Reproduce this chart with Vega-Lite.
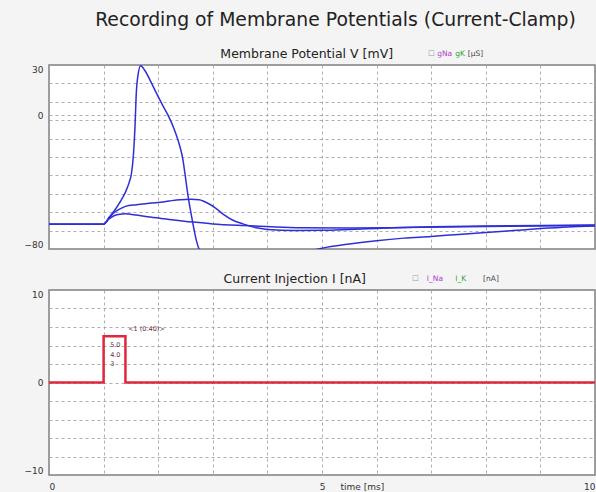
{
  "$schema": "https://vega.github.io/schema/vega-lite/v6.json",
  "background": "#f4f4f4",
  "padding": {"left": 23, "top": 10, "right": 0, "bottom": 0},
  "title": {"text": "Recording of Membrane Potentials (Current-Clamp)", "font": "DejaVu Sans", "fontSize": 18.8, "fontWeight": "normal", "color": "#222", "anchor": "middle", "dx": 26, "offset": 18},
  "config": {
    "view": {"fill": "white", "stroke": "#808080", "strokeWidth": 1.5},
    "axis": {"labelFont": "DejaVu Sans", "labelFontSize": 9, "labelColor": "#333", "gridColor": "#9a9a9a", "gridDash": [3, 3], "gridWidth": 0.8, "domain": false, "ticks": false, "labelPadding": 6, "labelOverlap": false, "tickCount": 30, "format": "~g"}
  },
  "datasets": {
    "vm": [
      {"s": "s5", "t": 0, "v": -65.2}, {"s": "s5", "t": 1.0, "v": -65.2}, {"s": "s5", "t": 1.1, "v": -61}, {"s": "s5", "t": 1.2, "v": -57}, {"s": "s5", "t": 1.3, "v": -52}, {"s": "s5", "t": 1.4, "v": -46}, {"s": "s5", "t": 1.47, "v": -40}, {"s": "s5", "t": 1.51, "v": -35}, {"s": "s5", "t": 1.55, "v": -22}, {"s": "s5", "t": 1.575, "v": -7}, {"s": "s5", "t": 1.6, "v": 14}, {"s": "s5", "t": 1.63, "v": 24}, {"s": "s5", "t": 1.68, "v": 29.5}, {"s": "s5", "t": 1.75, "v": 27}, {"s": "s5", "t": 1.85, "v": 21}, {"s": "s5", "t": 1.97, "v": 13}, {"s": "s5", "t": 2.08, "v": 6}, {"s": "s5", "t": 2.18, "v": 0}, {"s": "s5", "t": 2.3, "v": -9}, {"s": "s5", "t": 2.4, "v": -19}, {"s": "s5", "t": 2.45, "v": -26}, {"s": "s5", "t": 2.49, "v": -35}, {"s": "s5", "t": 2.55, "v": -49}, {"s": "s5", "t": 2.62, "v": -62}, {"s": "s5", "t": 2.7, "v": -75}, {"s": "s5", "t": 2.77, "v": -82}, {"s": "s5", "t": 2.9, "v": -88}, {"s": "s5", "t": 3.2, "v": -91}, {"s": "s5", "t": 3.6, "v": -90}, {"s": "s5", "t": 4.0, "v": -88}, {"s": "s5", "t": 4.4, "v": -85}, {"s": "s5", "t": 4.84, "v": -80.7}, {"s": "s5", "t": 5.0, "v": -79.5}, {"s": "s5", "t": 5.5, "v": -77}, {"s": "s5", "t": 6.0, "v": -75}, {"s": "s5", "t": 6.5, "v": -73.5}, {"s": "s5", "t": 7.0, "v": -72.5}, {"s": "s5", "t": 7.5, "v": -71.3}, {"s": "s5", "t": 8.0, "v": -70.2}, {"s": "s5", "t": 8.5, "v": -69}, {"s": "s5", "t": 9.0, "v": -67.8}, {"s": "s5", "t": 9.5, "v": -66.8}, {"s": "s5", "t": 10, "v": -66.2},
      {"s": "s4", "t": 0, "v": -65.2}, {"s": "s4", "t": 1.0, "v": -65.2}, {"s": "s4", "t": 1.1, "v": -61.5}, {"s": "s4", "t": 1.2, "v": -58}, {"s": "s4", "t": 1.3, "v": -56}, {"s": "s4", "t": 1.4, "v": -54.5}, {"s": "s4", "t": 1.6, "v": -53.5}, {"s": "s4", "t": 1.8, "v": -52.8}, {"s": "s4", "t": 2.0, "v": -52.2}, {"s": "s4", "t": 2.2, "v": -51.3}, {"s": "s4", "t": 2.4, "v": -50.5}, {"s": "s4", "t": 2.6, "v": -50.2}, {"s": "s4", "t": 2.75, "v": -50.6}, {"s": "s4", "t": 2.9, "v": -52.5}, {"s": "s4", "t": 3.05, "v": -55.5}, {"s": "s4", "t": 3.2, "v": -59.5}, {"s": "s4", "t": 3.35, "v": -62.5}, {"s": "s4", "t": 3.55, "v": -65}, {"s": "s4", "t": 3.8, "v": -67.3}, {"s": "s4", "t": 4.0, "v": -68.3}, {"s": "s4", "t": 4.5, "v": -68.9}, {"s": "s4", "t": 5.0, "v": -68.8}, {"s": "s4", "t": 5.5, "v": -68.3}, {"s": "s4", "t": 6.0, "v": -67.7}, {"s": "s4", "t": 6.5, "v": -67.1}, {"s": "s4", "t": 7.0, "v": -66.7}, {"s": "s4", "t": 8.0, "v": -66.2}, {"s": "s4", "t": 9.0, "v": -65.9}, {"s": "s4", "t": 10, "v": -65.7},
      {"s": "s3", "t": 0, "v": -65.2}, {"s": "s3", "t": 1.0, "v": -65.2}, {"s": "s3", "t": 1.1, "v": -62}, {"s": "s3", "t": 1.2, "v": -60}, {"s": "s3", "t": 1.3, "v": -59.2}, {"s": "s3", "t": 1.4, "v": -59}, {"s": "s3", "t": 1.6, "v": -59.7}, {"s": "s3", "t": 1.85, "v": -60.9}, {"s": "s3", "t": 2.2, "v": -62.3}, {"s": "s3", "t": 2.64, "v": -63.9}, {"s": "s3", "t": 3.0, "v": -65}, {"s": "s3", "t": 3.56, "v": -66}, {"s": "s3", "t": 4.0, "v": -66.6}, {"s": "s3", "t": 4.6, "v": -67.3}, {"s": "s3", "t": 5.5, "v": -67.5}, {"s": "s3", "t": 6.5, "v": -67.2}, {"s": "s3", "t": 8.0, "v": -66.5}, {"s": "s3", "t": 10, "v": -66}
    ],
    "inj": [
      {"k": 0, "t": 0, "i": 0}, {"k": 1, "t": 1.0, "i": 0}, {"k": 2, "t": 1.0, "i": 5}, {"k": 3, "t": 1.4, "i": 5}, {"k": 4, "t": 1.4, "i": 0}, {"k": 5, "t": 10, "i": 0}
    ],
    "pulseLabels": [
      {"t": 1.12, "i": 4.05, "label": "5.0"}, {"t": 1.12, "i": 2.97, "label": "4.0"}, {"t": 1.12, "i": 2.0, "label": "3"}, {"t": 1.45, "i": 5.8, "label": "<1 (0.40)>"}
    ],
    "titleV": [{"t": 4.72, "y": 36.5, "label": "Membrane Potential V [mV]"}],
    "titleI": [{"t": 4.5, "y": 11.2, "label": "Current Injection I [nA]"}],
    "hdrV": [
      {"t": 6.94, "y": 36.5, "label": "☐", "kind": "box"}, {"t": 7.11, "y": 36.5, "label": "gNa", "kind": "na"}, {"t": 7.44, "y": 36.5, "label": "gK", "kind": "k"}, {"t": 7.67, "y": 36.5, "label": "[µS]", "kind": "unit"}
    ],
    "hdrI": [
      {"t": 6.65, "y": 11.2, "label": "☐", "kind": "box"}, {"t": 6.92, "y": 11.2, "label": "I_Na", "kind": "na"}, {"t": 7.44, "y": 11.2, "label": "I_K", "kind": "k"}, {"t": 7.95, "y": 11.2, "label": "[nA]", "kind": "unit"}
    ]
  },
  "bounds": "flush",
  "spacing": 41,
  "vconcat": [
    {
      "width": 546,
      "height": 184,
      "layer": [
        {
          "data": {"name": "vm"},
          "mark": {"type": "line", "color": "#2f2fd8", "strokeWidth": 1.5, "clip": true, "interpolate": "monotone"},
          "encoding": {
            "x": {"field": "t", "type": "quantitative", "scale": {"domain": [0, 10], "nice": false}, "axis": {"values": [0, 1, 2, 3, 4, 5, 6, 7, 8, 9, 10], "labels": false, "grid": true, "title": null}},
            "y": {"field": "v", "type": "quantitative", "scale": {"domain": [-80, 30], "nice": false, "zero": false}, "axis": {"values": [-80, -69, -58, -47, -36, -25, -14, -3, 0, 8, 19, 30], "labelExpr": "datum.value == 30 || datum.value == 0 || datum.value == -80 ? datum.label : ''", "labelFlush": true, "grid": true, "title": null}},
            "detail": {"field": "s"}
          }
        },
        {
          "mark": {"type": "rule", "color": "#555", "strokeWidth": 1.5},
          "encoding": {"y": {"datum": 0}}
        },
        {
          "data": {"name": "titleV"},
          "mark": {"type": "text", "align": "center", "baseline": "middle", "font": "DejaVu Sans", "fontSize": 12.5, "color": "#222"},
          "encoding": {
            "x": {"field": "t", "type": "quantitative"},
            "y": {"field": "y", "type": "quantitative"},
            "text": {"field": "label"}
          }
        },
        {
          "data": {"name": "hdrV"},
          "mark": {"type": "text", "align": "left", "baseline": "middle", "font": "DejaVu Sans", "fontSize": 7.5},
          "encoding": {
            "x": {"field": "t", "type": "quantitative"},
            "y": {"field": "y", "type": "quantitative"},
            "text": {"field": "label"},
            "color": {"field": "kind", "type": "nominal", "scale": {"domain": ["box", "na", "k", "unit"], "range": ["#7f9fc0", "#b040d0", "#30a030", "#444444"]}, "legend": null}
          }
        }
      ]
    },
    {
      "width": 546,
      "height": 185,
      "layer": [
        {
          "data": {"name": "inj"},
          "mark": {"type": "line", "color": "#e0283c", "strokeWidth": 2.5, "clip": true},
          "encoding": {
            "x": {"field": "t", "type": "quantitative", "scale": {"domain": [0, 10], "nice": false}, "axis": {"values": [0, 1, 2, 3, 4, 5, 6, 7, 8, 9, 10], "labelExpr": "datum.value == 0 || datum.value == 5 || datum.value == 10 ? datum.label : ''", "labelFlush": true, "grid": true, "title": "time [ms]", "titleFont": "DejaVu Sans", "titleFontSize": 9, "titleFontWeight": "normal", "titleColor": "#333", "titleAlign": "left", "titleX": 291, "titleY": 11, "titleBaseline": "middle", "labelPadding": 7}},
            "y": {"field": "i", "type": "quantitative", "scale": {"domain": [-10, 10], "nice": false}, "axis": {"values": [-10, -8, -6, -4, -2, 0, 2, 4, 6, 8, 10], "labelExpr": "datum.value == 10 || datum.value == 0 || datum.value == -10 ? datum.label : ''", "labelFlush": true, "grid": true, "title": null}},
            "order": {"field": "k"}
          }
        },
        {
          "data": {"name": "pulseLabels"},
          "mark": {"type": "text", "align": "left", "baseline": "middle", "font": "DejaVu Sans", "fontSize": 6.5, "color": "#6a3040"},
          "encoding": {
            "x": {"field": "t", "type": "quantitative"},
            "y": {"field": "i", "type": "quantitative"},
            "text": {"field": "label"}
          }
        },
        {
          "data": {"name": "titleI"},
          "mark": {"type": "text", "align": "center", "baseline": "middle", "font": "DejaVu Sans", "fontSize": 12.5, "color": "#222"},
          "encoding": {
            "x": {"field": "t", "type": "quantitative"},
            "y": {"field": "y", "type": "quantitative"},
            "text": {"field": "label"}
          }
        },
        {
          "data": {"name": "hdrI"},
          "mark": {"type": "text", "align": "left", "baseline": "middle", "font": "DejaVu Sans", "fontSize": 7.5},
          "encoding": {
            "x": {"field": "t", "type": "quantitative"},
            "y": {"field": "y", "type": "quantitative"},
            "text": {"field": "label"},
            "color": {"field": "kind", "type": "nominal", "scale": {"domain": ["box", "na", "k", "unit"], "range": ["#7f9fc0", "#b040d0", "#30a030", "#444444"]}, "legend": null}
          }
        }
      ]
    }
  ]
}
